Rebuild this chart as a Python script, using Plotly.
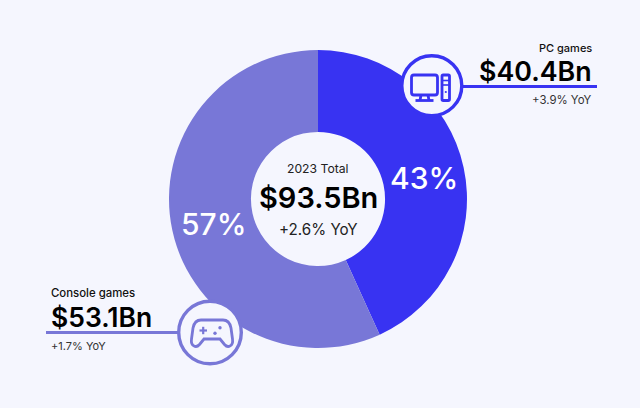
import plotly.graph_objects as go

W, H = 640, 408

segments = ['PC games', 'Console games']
revenue = [40.4, 53.1]
yoy = [3.9, 1.7]
total = 93.5
total_yoy = 2.6
total_label = '2023 Total'

BG = '#f5f6fe'
PC = '#3833f2'
CONSOLE = '#7877d7'
FONT = 'Inter'


def px(x, y):
    return '%.5f %.5f' % (x / W, 1 - y / H)


def path(d):
    # d is a list of (command, points in page pixels)
    out = []
    for cmd, pts in d:
        out.append(cmd + ' ' + ' '.join(px(*p) for p in pts))
    return ' '.join(out)


def rounded_rect(x0, y0, x1, y1, r):
    return path([
        ('M', [(x0 + r, y0)]), ('L', [(x1 - r, y0)]),
        ('Q', [(x1, y0), (x1, y0 + r)]), ('L', [(x1, y1 - r)]),
        ('Q', [(x1, y1), (x1 - r, y1)]), ('L', [(x0 + r, y1)]),
        ('Q', [(x0, y1), (x0, y1 - r)]), ('L', [(x0, y0 + r)]),
        ('Q', [(x0, y0), (x0 + r, y0)]),
    ]) + ' Z'


def stroke(d, color, width=2.8, fill='rgba(0,0,0,0)'):
    return dict(type='path', xref='paper', yref='paper', path=d, fillcolor=fill,
                line=dict(color=color, width=width))


def hline(x0, x1, y, color):
    return dict(type='line', xref='paper', yref='paper', x0=x0 / W, x1=x1 / W,
                y0=1 - y / H, y1=1 - y / H, line=dict(color=color, width=3.2))


def circle(cx, cy, r, color):
    return dict(type='circle', xref='paper', yref='paper',
                x0=(cx - r) / W, x1=(cx + r) / W,
                y0=1 - (cy + r) / H, y1=1 - (cy - r) / H,
                fillcolor=BG, line=dict(color=color, width=3.4))


def dot(cx, cy, r, color):
    c = circle(cx, cy, r, color)
    c['fillcolor'] = color
    c['line'] = dict(width=0)
    return c


def label(x, y, text, size, anchor, color='#111111', weight=400):
    return dict(x=x / W, y=1 - y / H, xref='paper', yref='paper', text=text,
                showarrow=False, xanchor=anchor, yanchor='middle',
                xshift=0, borderpad=0,
                font=dict(family=FONT, size=size, color=color, weight=weight))


fig = go.Figure(go.Pie(
    labels=segments,
    values=revenue,
    hole=0.45,
    sort=False,
    direction='clockwise',
    rotation=0,
    marker=dict(colors=[PC, CONSOLE], line=dict(width=0)),
    textinfo='none',
    domain=dict(x=[169 / W, 467 / W], y=[1 - 348 / H, 1 - 50 / H]),
    showlegend=False,
))

shapes = [
    hline(462, 597, 86.5, PC),
    hline(46, 182, 332.5, CONSOLE),
    circle(431.8, 85.7, 30, PC),
    circle(210, 332.5, 31.3, CONSOLE),
    # monitor
    stroke(rounded_rect(411.5, 75, 437.5, 95, 2.5), PC),
    stroke(path([('M', [(421, 95)]), ('L', [(420, 100.5)])]), PC),
    stroke(path([('M', [(428, 95)]), ('L', [(429, 100.5)])]), PC),
    stroke(path([('M', [(415.5, 100.5)]), ('L', [(433.5, 100.5)])]), PC),
    # tower
    stroke(rounded_rect(442, 75, 449.5, 100.5, 1.2), PC),
    stroke(path([('M', [(442, 80.5)]), ('L', [(449.5, 80.5)])]), PC, 1.6),
    stroke(path([('M', [(442, 85)]), ('L', [(449.5, 85)])]), PC, 1.6),
    dot(445.8, 92, 1.1, PC),
    # gamepad
    stroke(path([
        ('M', [(201, 320)]), ('L', [(223, 320)]),
        ('C', [(228, 320), (230, 323), (231, 328)]),
        ('L', [(232.5, 339)]),
        ('C', [(233.5, 346), (228, 348.5), (224.5, 344.5)]),
        ('L', [(220, 339)]), ('L', [(204, 339)]), ('L', [(199.5, 344.5)]),
        ('C', [(196, 348.5), (190.5, 346), (191.5, 339)]),
        ('L', [(193, 328)]),
        ('C', [(194, 323), (196, 320), (201, 320)]),
    ]) + ' Z', CONSOLE),
    stroke(path([('M', [(199.5, 330.5)]), ('L', [(207, 330.5)])]), CONSOLE, 2.2),
    stroke(path([('M', [(203.2, 326.8)]), ('L', [(203.2, 334.2)])]), CONSOLE, 2.2),
    dot(220, 327.7, 1.7, CONSOLE),
    dot(215, 333.2, 1.7, CONSOLE),
]

shares = [round(100 * v / sum(revenue)) for v in revenue]

annotations = [
    label(424, 178, '%d%%' % shares[0], 30, 'center', 'white', 500),
    label(213, 224, '%d%%' % shares[1], 30, 'center', 'white', 500),
    label(318, 168.5, total_label, 12.2, 'center', '#222222'),
    label(318, 197, '$%.1fBn' % total, 29, 'center', '#000000', 600),
    label(318, 229, '+%.1f%% YoY' % total_yoy, 15.2, 'center', '#222222'),
    label(593, 48, segments[0], 11, 'right', '#111111', 500),
    label(593, 70.5, '$%.1fBn' % revenue[0], 26.8, 'right', '#000000', 600),
    label(593, 100, '+%.1f%% YoY' % yoy[0], 11.4, 'right', '#333333'),
    label(50, 293, segments[1], 11.4, 'left', '#111111', 500),
    label(50, 317, '$%.1fBn' % revenue[1], 26.5, 'left', '#000000', 600),
    label(50, 345.5, '+%.1f%% YoY' % yoy[1], 11, 'left', '#333333'),
]

fig.update_layout(
    width=W, height=H,
    margin=dict(l=0, r=0, t=0, b=0),
    paper_bgcolor=BG,
    plot_bgcolor=BG,
    shapes=shapes,
    annotations=annotations,
)

# the page's default body margin would push the chart 8px off the window edge
fig.write_html('out.html', config=dict(displayModeBar=False),
               post_script="document.body.style.margin='0';document.body.style.background='%s';" % BG)
